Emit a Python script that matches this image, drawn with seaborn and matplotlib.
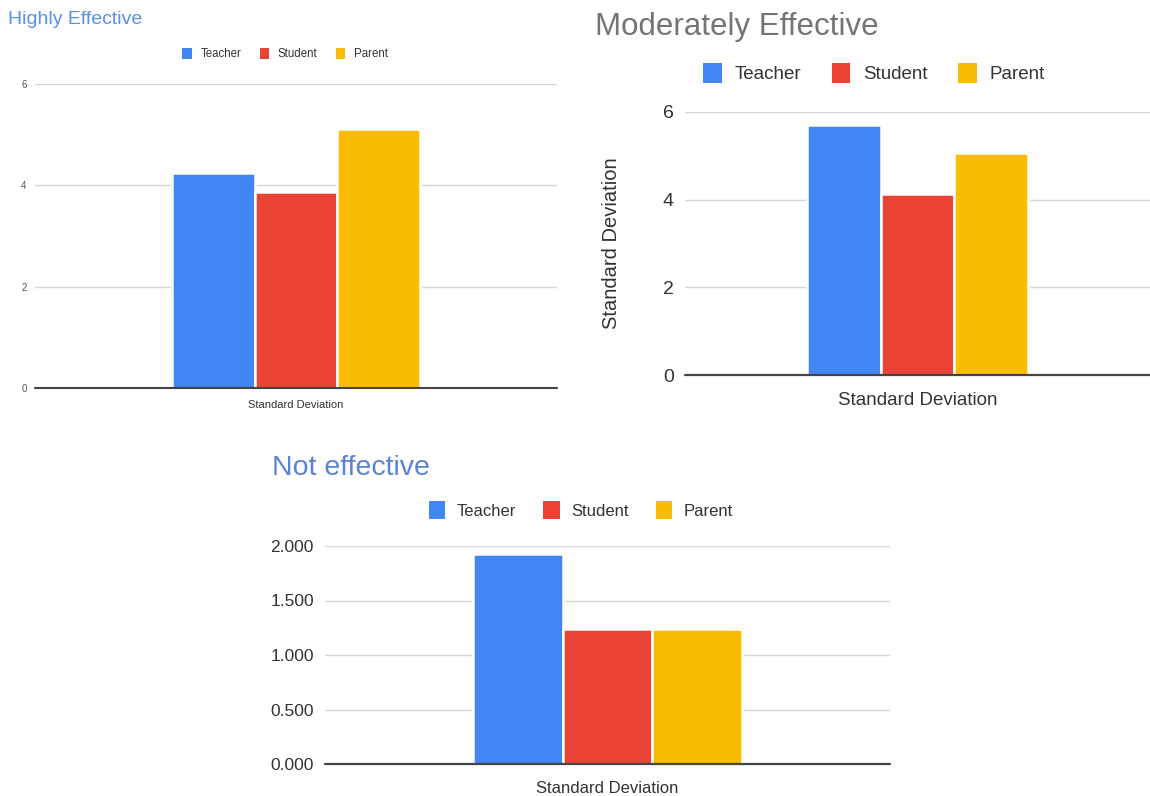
import matplotlib
matplotlib.use("Agg")
import matplotlib.pyplot as plt
import matplotlib.ticker as mticker
from matplotlib.patches import Patch
import seaborn as sns
import pandas as pd

# Values
categories = ["Standard Deviation"]
groups = ["Teacher", "Student", "Parent"]
highly_effective = [4.24, 3.86, 5.12]
moderately_effective = [5.71, 4.14, 5.07]
not_effective = [1.93, 1.24, 1.24]
yticks_top = [0, 2, 4, 6]
yticks_bottom = [0.0, 0.5, 1.0, 1.5, 2.0]

palette = ["#4285F4", "#EA4335", "#FBBC04"]

sns.set_theme(style="white")
plt.rcParams["font.family"] = ["Liberation Sans", "DejaVu Sans"]

fig = plt.figure(figsize=(11.5, 7.96), dpi=100)
W, H = 1150, 796


def axes_px(x0, x1, ytop, ybot):
    return fig.add_axes([x0 / W, 1 - ybot / H, (x1 - x0) / W, (ybot - ytop) / H])


def draw(ax, values, yticks, fmt, tick_fs, tick_color, xlab_fs, xlab_pad, ypad, base_lw):
    df = pd.DataFrame({"metric": categories * len(groups), "group": groups, "value": values})
    sns.barplot(data=df, x="metric", y="value", hue="group", hue_order=groups,
                palette=palette, ax=ax, legend=False, width=0.8,
                edgecolor="white", linewidth=1.8, saturation=1)
    ax.set_xlim(-0.84, 0.84)
    ax.set_ylim(yticks[0], yticks[-1])
    ax.set_yticks(yticks)
    ax.yaxis.set_major_formatter(mticker.FormatStrFormatter(fmt))
    ax.grid(axis="y", color="#d6d6d6", linewidth=1)
    ax.set_axisbelow(True)
    for s in ax.spines.values():
        s.set_visible(False)
    ax.axhline(0, color="#444444", linewidth=base_lw, zorder=5, clip_on=False)
    ax.tick_params(axis="y", length=0, labelsize=tick_fs, labelcolor=tick_color, pad=ypad)
    ax.tick_params(axis="x", length=0, labelsize=xlab_fs, labelcolor="#333333", pad=xlab_pad)
    ax.set_xlabel("")
    ax.set_ylabel("")


def legend_at(cx, cy, fs, handle_len):
    handles = [Patch(facecolor=c, edgecolor="none") for c in palette]
    fig.legend(handles, groups, loc="center", bbox_to_anchor=(cx / W, 1 - cy / H),
               ncol=3, frameon=False, fontsize=fs, handlelength=handle_len,
               handleheight=handle_len * 1.25, handletextpad=0.7, columnspacing=1.6,
               labelcolor="#333333")


# Highly Effective
ax1 = axes_px(35, 557, 84, 388)
draw(ax1, highly_effective, yticks_top, "%d", 7, "#555555", 8, 9, 6, 1.5)
fig.text(8 / W, 1 - 20 / H, "Highly Effective", fontsize=14, color="#5b8fec",
         ha="left", va="center")
legend_at(285, 54, 8.3, 0.85)

# Moderately Effective
ax2 = axes_px(685, 1150, 112, 375)
draw(ax2, moderately_effective, yticks_top, "%d", 14, "#333333", 13.5, 12, 8, 1.6)
ax2.set_ylabel("Standard Deviation", fontsize=14.5, color="#333333", labelpad=30)
fig.text(595 / W, 1 - 27 / H, "Moderately Effective", fontsize=22.5, color="#757575",
         ha="left", va="center")
legend_at(874, 73, 13.5, 1.0)

# Not effective
ax3 = axes_px(325, 890, 546, 764)
draw(ax3, not_effective, yticks_bottom, "%.3f", 12.5, "#333333", 12, 12, 8, 1.6)
fig.text(272 / W, 1 - 468 / H, "Not effective", fontsize=20.5, color="#5a84d2",
         ha="left", va="center")
legend_at(581, 510, 12, 1.0)

fig.savefig("out.png", dpi=100, facecolor="white")
